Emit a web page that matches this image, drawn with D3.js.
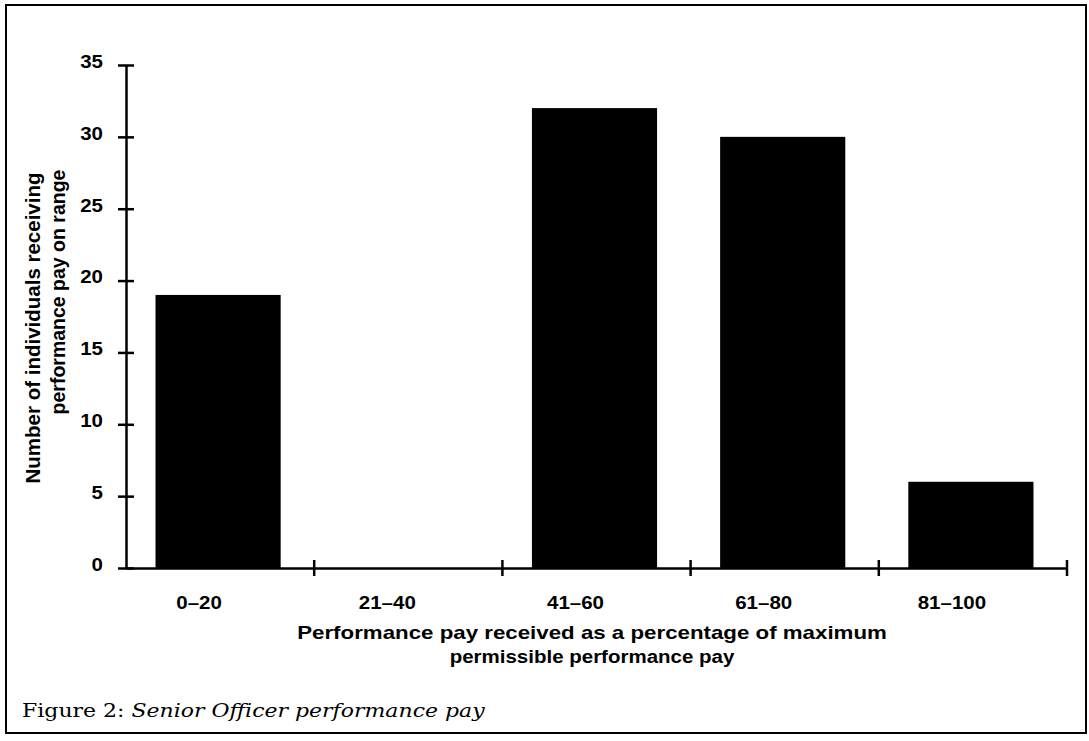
<!DOCTYPE html>
<html>
<head>
<meta charset="utf-8">
<script src="https://cdn.jsdelivr.net/npm/d3@7"></script>
<style>
  html, body { margin: 0; padding: 0; background: #fff; }
  svg { display: block; }
  .lbl { font-family: "Liberation Sans", Arial, sans-serif; font-weight: bold; font-size: 20.5px; fill: #000; }
</style>
</head>
<body>
<script>
const categories = ["0\u201320", "21\u201340", "41\u201360", "61\u201380", "81\u2013100"];
const counts = [19, 0, 32, 30, 6];
const yTicks = [0, 5, 10, 15, 20, 25, 30, 35];
const yTitle = ["Number of individuals receiving", "performance pay on range"];
const xTitle = ["Performance pay received as a percentage of maximum", "permissible performance pay"];
const captionLead = "Figure 2: ";
const captionItalic = "Senior Officer performance pay";

const W = 1089, H = 741;
const SQ = 0.88; // vertical squish of the printed lettering
const svg = d3.select("body").append("svg").attr("width", W).attr("height", H);

// frame
svg.append("rect").attr("x", 6).attr("y", 5).attr("width", 1080).attr("height", 728)
  .attr("fill", "none").attr("stroke", "#000").attr("stroke-width", 2);

const y = d3.scaleLinear().domain([0, 35]).range([568, 65]);
const x = d3.scaleBand().domain(categories).range([126, 1067]).paddingInner(0.335).paddingOuter(0.1675);

// bars
svg.append("g").selectAll("rect").data(categories).join("rect")
  .attr("x", (d) => x(d) - 2)
  .attr("width", x.bandwidth())
  .attr("y", (d, i) => y(counts[i]))
  .attr("height", (d, i) => y(0) - y(counts[i]))
  .attr("fill", "#000");

// y axis
const yAxis = svg.append("g").attr("transform", "translate(126,0)")
  .call(d3.axisLeft(y).tickValues(yTicks).tickSize(8).tickPadding(15).tickSizeOuter(0));
yAxis.select(".domain").attr("stroke", "#000").attr("stroke-width", 2.5);
yAxis.selectAll(".tick line").attr("x1", -8).attr("x2", 8).attr("stroke", "#000").attr("stroke-width", 2.5);
yAxis.selectAll(".tick text").attr("class", "lbl").attr("x", -23).attr("y", -4 / SQ).attr("dy", "0.35em")
  .attr("transform", `scale(1,${SQ})`);

// x axis
const xAxis = svg.append("g").attr("transform", "translate(0,568)")
  .call(d3.axisBottom(x).tickSize(0).tickSizeOuter(0));
xAxis.select(".domain").attr("stroke", "#000").attr("stroke-width", 2.5);
xAxis.selectAll(".tick text").attr("class", "lbl").attr("dy", "0").attr("x", -21).attr("y", 41 / SQ)
  .attr("transform", `scale(1,${SQ})`);
const step = x.step();
const bounds = categories.map((c, i) => 126 + step * (i + 1));
xAxis.selectAll("line.bnd").data(bounds).join("line").attr("class", "bnd")
  .attr("x1", (d) => d).attr("x2", (d) => d).attr("y1", -8).attr("y2", 8)
  .attr("stroke", "#000").attr("stroke-width", 2.5);

// y title
const yt = svg.append("g");
yt.append("text").attr("class", "lbl").attr("text-anchor", "middle")
  .attr("transform", "translate(40,328) rotate(-90)").text(yTitle[0]);
yt.append("text").attr("class", "lbl").attr("text-anchor", "middle").style("font-size", "19.5px")
  .attr("transform", "translate(65,292) rotate(-90)").text(yTitle[1]);

// x title
svg.append("text").attr("class", "lbl").attr("text-anchor", "middle").style("font-size", "22.3px")
  .attr("transform", `translate(592,639) scale(1,0.81)`).text(xTitle[0]);
svg.append("text").attr("class", "lbl").attr("text-anchor", "middle").style("font-size", "20.5px")
  .attr("transform", `translate(592,663) scale(1,${SQ})`).text(xTitle[1]);

// caption
const cap = svg.append("text").attr("transform", `translate(22,717) scale(1,${SQ})`)
  .style("font-family", "'DejaVu Serif', 'Liberation Serif', serif").style("font-size", "22px").attr("fill", "#000");
cap.append("tspan").text(captionLead);
cap.append("tspan").style("font-style", "italic").text(captionItalic);
</script>
</body>
</html>
